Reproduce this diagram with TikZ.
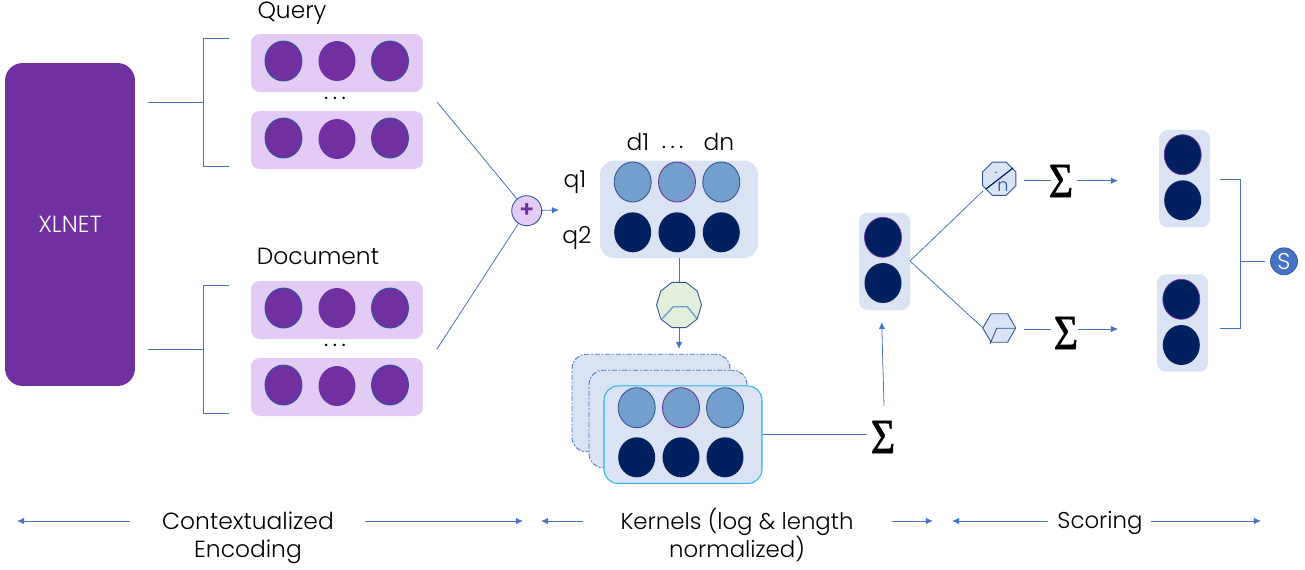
\documentclass[tikz,border=0pt]{standalone}
\usepackage{fontspec}
\setmainfont{Poppins}[UprightFont=* Light]
\newfontfamily\sumfont{Liberation Serif}[FakeBold=1.2]
\usetikzlibrary{arrows.meta,shapes.geometric}
\definecolor{xlpurple}{HTML}{7030A0}
\definecolor{rowpurple}{HTML}{E3CBF6}
\definecolor{panelblue}{HTML}{DAE3F3}
\definecolor{cellblue}{HTML}{739FCC}
\definecolor{celldark}{HTML}{002060}
\definecolor{edgeblue}{HTML}{2F5597}
\definecolor{linkblue}{HTML}{4472C4}
\definecolor{topblue}{HTML}{29B6EC}
\definecolor{kernelgreen}{HTML}{E2EFDA}
\tikzset{
link/.style={draw=linkblue,line width=0.45pt},
arrowlink/.style={link,-{Latex[length=4pt,width=3.6pt]}},
label/.style={font=\fontsize{13.3}{16}\selectfont,align=center,inner sep=0pt},
purplecell/.style={ellipse,draw=edgeblue,fill=xlpurple,line width=0.5pt,minimum width=0.74cm,minimum height=0.8cm,inner sep=0pt},
lightcell/.style={ellipse,draw=edgeblue,fill=cellblue,line width=0.5pt,minimum width=0.74cm,minimum height=0.8cm,inner sep=0pt},
midcell/.style={lightcell,draw=xlpurple},
darkcell/.style={ellipse,fill=celldark,minimum width=0.74cm,minimum height=0.8cm,inner sep=0pt},
topcell/.style={darkcell,draw=xlpurple,line width=0.4pt},
rowbox/.style={rectangle,rounded corners=5pt,fill=rowpurple,minimum width=3.44cm,minimum height=1.16cm,inner sep=0pt},
matbox/.style={rectangle,rounded corners=8pt,fill=panelblue,minimum width=3.16cm,minimum height=1.95cm,inner sep=0pt},
backbox/.style={matbox,draw=linkblue,dash pattern=on 3pt off 1pt on 1pt off 1pt,line width=0.5pt},
tallbox/.style={rectangle,rounded corners=5pt,fill=panelblue,minimum width=1.02cm,minimum height=1.95cm,inner sep=0pt},
sumsign/.style={font=\sumfont\fontsize{28}{28}\selectfont,inner sep=0pt,xscale=0.85},
}
\begin{document}
\begin{tikzpicture}[x=0.02cm,y=-0.02cm]
\useasboundingbox (0,0) rectangle (1305,569);
%encoder
\node[rectangle,rounded corners=10pt,fill=xlpurple,minimum width=2.6cm,minimum height=6.46cm,text=white,font=\fontsize{13.3}{16}\selectfont] (xlnet) at (70,224.5) {XLNET};
%query
\node[label] (query) at (292,13) {Query};
\node[rowbox] (qrowa) at (337,63) {};
\node[purplecell] (qa1) at (283.5,61) {};
\node[purplecell,draw=none] (qa2) at (337,61) {};
\node[purplecell] (qa3) at (390,61) {};
\node[label] (qdots) at (335,98) {.\kern2.5pt.\kern2.5pt.};
\node[rowbox] (qrowb) at (337,140) {};
\node[purplecell] (qb1) at (283.5,138) {};
\node[purplecell,draw=none] (qb2) at (337,139) {};
\node[purplecell] (qb3) at (390,138) {};
%document
\node[label] (document) at (318,256) {Document};
\node[rowbox] (drowa) at (337,310) {};
\node[purplecell] (da1) at (283.5,308) {};
\node[purplecell,draw=none] (da2) at (337,308) {};
\node[purplecell] (da3) at (390,308) {};
\node[label] (ddots) at (335,345) {.\kern2.5pt.\kern2.5pt.};
\node[rowbox] (drowb) at (337,387) {};
\node[purplecell] (db1) at (283.5,385) {};
\node[purplecell,draw=none] (db2) at (337,386) {};
\node[purplecell] (db3) at (390,385) {};
%brackets
\coordinate (qstart) at (148,102);
\coordinate (qmid) at (203,102);
\coordinate (qtop) at (203,38);
\coordinate (qtopend) at (229,38);
\coordinate (qbot) at (203,166);
\coordinate (qbotend) at (229,166);
\draw[link] (qstart) -- (qmid);
\draw[link] (qtopend) -- (qtop) -- (qbot) -- (qbotend);
\coordinate (dstart) at (148,349);
\coordinate (dmid) at (203,349);
\coordinate (dtop) at (203,285);
\coordinate (dtopend) at (229,285);
\coordinate (dbot) at (203,413);
\coordinate (dbotend) at (229,413);
\draw[link] (dstart) -- (dmid);
\draw[link] (dtopend) -- (dtop) -- (dbot) -- (dbotend);
%concat
\node[circle,draw=edgeblue,fill=rowpurple,line width=0.5pt,minimum size=0.6cm,inner sep=0pt,text=xlpurple,font=\bfseries\fontsize{13}{13}\selectfont] (plus) at (526.7,210.7) {+};
\coordinate (qout) at (437,102);
\coordinate (dout) at (437,349);
\coordinate (plusout) at (559,210);
\draw[link] (qout) -- (plus);
\draw[link] (dout) -- (plus);
\draw[arrowlink] (plus) -- (plusout);
%matrix
\node[matbox] (matrix) at (679,209.3) {};
\node[lightcell] (m11) at (632.7,182) {};
\node[midcell] (m12) at (677,182) {};
\node[lightcell] (m13) at (721.3,182) {};
\node[darkcell] (m21) at (632.7,232.3) {};
\node[darkcell] (m22) at (677,232.3) {};
\node[darkcell] (m23) at (721.3,232.3) {};
\node[label] (q1) at (575,182) {q1};
\node[label] (q2) at (577,238) {q2};
\node[label] (d1) at (638,142) {d1};
\node[label] (mdots) at (672.7,147) {.\kern2.5pt.\kern2.5pt.};
\node[label] (dn) at (719,142) {dn};
%kernel pooling
\node[regular polygon,regular polygon sides=10,draw=edgeblue,fill=kernelgreen,line width=0.5pt,minimum size=0.9cm,inner sep=0pt,yscale=1.06] (kernel) at (679,305) {};
\draw[draw=cellblue,line width=0.8pt] (661.7,319.3) -- (673.3,306.7) -- (687.3,306.7) -- (696.7,318.3);
\draw[link] (matrix) -- (kernel);
\coordinate (kernelin) at (679,349);
\draw[arrowlink] (kernel) -- (kernelin);
%stack
\node[backbox] (stacka) at (651,403) {};
\node[backbox] (stackb) at (668,419) {};
\node[matbox,draw=topblue,line width=0.6pt] (stackc) at (683,434.7) {};
\node[lightcell] (k11) at (636.7,407.7) {};
\node[midcell] (k12) at (681,407.7) {};
\node[lightcell] (k13) at (725,407.7) {};
\node[darkcell] (k21) at (636.7,457.3) {};
\node[darkcell] (k22) at (681,457.3) {};
\node[darkcell] (k23) at (725,457.3) {};
\node[sumsign] (suma) at (883,437) {Σ};
\coordinate (sumaend) at (867,434.7);
\draw[link] (stackc) -- (sumaend);
%features
\node[tallbox] (feat) at (884.5,261.3) {};
\node[topcell] (f1) at (883,237.3) {};
\node[darkcell] (f2) at (883,283) {};
\coordinate (sumaout) at (884,406);
\coordinate (featin) at (881.7,322);
\draw[arrowlink] (sumaout) -- (featin);
%norm and bias
\node[regular polygon,regular polygon sides=8,draw=edgeblue,fill=panelblue,line width=0.5pt,minimum size=0.72cm,inner sep=0pt] (norm) at (999.3,178.7) {};
\draw[draw=celldark,line width=0.7pt] (986,189) -- (1013,168);
\node[inner sep=0pt,font=\fontsize{7}{7}\selectfont] (normdot) at (996,173) {.};
\node[inner sep=0pt,text=edgeblue,font=\fontsize{10}{10}\selectfont] (normn) at (1003,187) {n};
\node[regular polygon,regular polygon sides=6,draw=edgeblue,fill=panelblue,line width=0.5pt,minimum size=0.66cm,inner sep=0pt] (bias) at (999.3,328) {};
\draw[draw=edgeblue,line width=0.5pt] (1015.7,328.3) -- (996.7,328.3) -- (990,344);
\coordinate (featout) at (910,261);
\coordinate (normin) at (983,191);
\coordinate (biasin) at (983,328);
\draw[link] (featout) -- (normin);
\draw[link] (featout) -- (biasin);
%sums
\node[sumsign] (sumb) at (1061,181) {Σ};
\node[sumsign] (sumc) at (1066,333) {Σ};
\coordinate (sumbin) at (1024,180.7);
\coordinate (sumbleft) at (1051,180.7);
\coordinate (sumbright) at (1077,180.7);
\coordinate (sumbend) at (1118,180.7);
\draw[link] (sumbin) -- (sumbleft);
\draw[arrowlink] (sumbright) -- (sumbend);
\coordinate (sumcin) at (1024,329);
\coordinate (sumcleft) at (1051,329);
\coordinate (sumcright) at (1078,329);
\coordinate (sumcend) at (1118,329);
\draw[link] (sumcin) -- (sumcleft);
\draw[arrowlink] (sumcright) -- (sumcend);
%scores
\node[tallbox] (scorea) at (1184.5,178.7) {};
\node[topcell] (sa1) at (1182.7,154.7) {};
\node[darkcell] (sa2) at (1182.7,200.3) {};
\node[tallbox] (scoreb) at (1182.5,323) {};
\node[topcell] (sb1) at (1181.3,299.3) {};
\node[darkcell] (sb2) at (1181.3,345) {};
\node[circle,fill=linkblue,draw=edgeblue,line width=0.4pt,minimum size=0.54cm,inner sep=0pt,text=white,font=\fontsize{13}{13}\selectfont] (score) at (1284,261.3) {S};
\coordinate (scorea1) at (1220,179.7);
\coordinate (scorea2) at (1240.7,179.7);
\coordinate (scoreb1) at (1220,328);
\coordinate (scoreb2) at (1240.7,328);
\coordinate (scorem) at (1240.7,261.3);
\coordinate (scoreend) at (1265,261.3);
\draw[link] (scorea1) -- (scorea2) -- (scoreb2) -- (scoreb1);
\draw[link] (scorem) -- (scoreend);
%bottom labels
\node[label] (encoding) at (248,538) {Contextualized\\Encoding};
\node[label,font=\fontsize{13}{16}\selectfont] (kernels) at (737,535) {Kernels (log \& length\\normalized)};
\node[label,font=\fontsize{13}{16}\selectfont] (scoring) at (1100,523) {Scoring};
\coordinate (ea) at (130,521);
\coordinate (eb) at (17,521);
\coordinate (ec) at (365,521);
\coordinate (ed) at (523,521);
\draw[arrowlink] (ea) -- (eb);
\draw[arrowlink] (ec) -- (ed);
\coordinate (ka) at (583,521);
\coordinate (kb) at (541,521);
\coordinate (kc) at (892,521);
\coordinate (kd) at (933,521);
\draw[arrowlink] (ka) -- (kb);
\draw[arrowlink] (kc) -- (kd);
\coordinate (sa) at (1048,521);
\coordinate (sb) at (952,521);
\coordinate (sc) at (1151,521);
\coordinate (sd) at (1261,521);
\draw[arrowlink] (sa) -- (sb);
\draw[arrowlink] (sc) -- (sd);
\end{tikzpicture}
\end{document}
